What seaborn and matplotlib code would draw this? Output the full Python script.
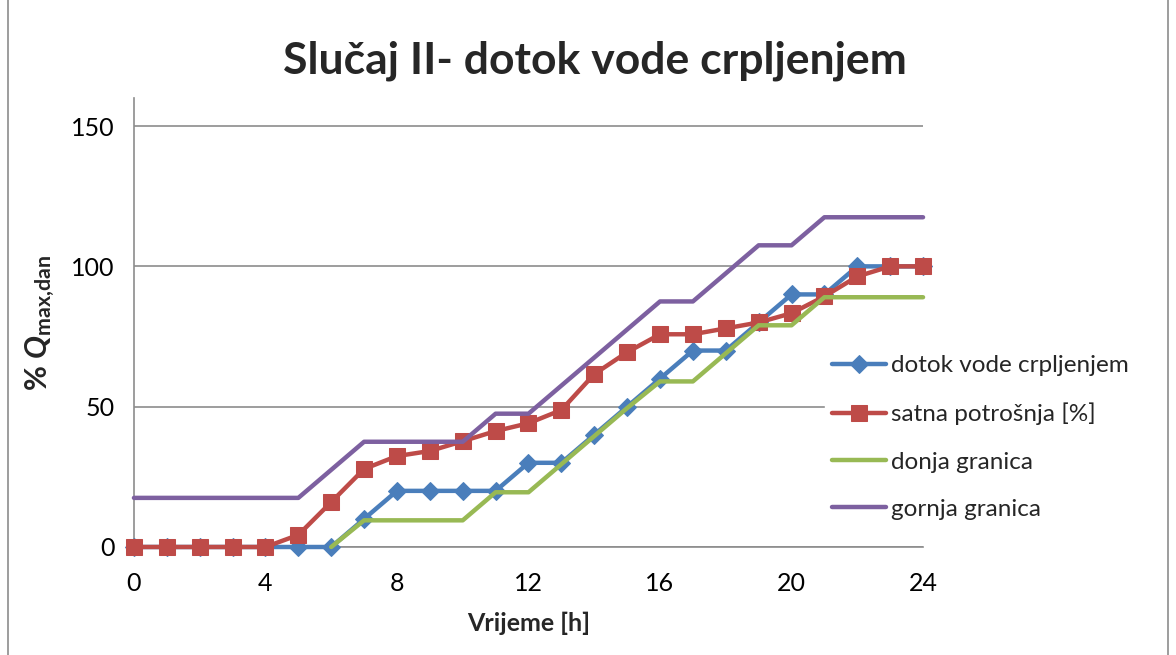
import matplotlib.pyplot as plt
import matplotlib.patches as mpatches
from matplotlib.ticker import MultipleLocator
import seaborn as sns

# podaci ocitani s grafa
sati = list(range(0, 25))
dotok = [0, 0, 0, 0, 0, 0, 0, 10, 20, 20, 20, 20, 30, 30, 40, 50, 60, 70, 70, 80, 90, 90, 100, 100, 100]
potrosnja = [0, 0, 0, 0, 0, 4.3, 16, 27.8, 32.4, 34.2, 37.7, 41.3, 44.1, 48.8, 61.6, 69.4,
             75.8, 75.8, 77.9, 80, 83.3, 89.3, 96.4, 100, 100]
sati_donja = list(range(6, 25))
donja = [0, 9.5, 9.5, 9.5, 9.5, 19.5, 19.5, 29.5, 39.5, 49.5, 59, 59, 69, 79, 79, 89, 89, 89, 89]
gornja = [17.5, 17.5, 17.5, 17.5, 17.5, 17.5, 27.5, 37.5, 37.5, 37.5, 37.5, 47.5, 47.5, 57.5,
          67.5, 77.5, 87.5, 87.5, 97.5, 107.5, 107.5, 117.5, 117.5, 117.5, 117.5]

sns.set_style("white")
plt.rcParams["font.family"] = ["Lato", "DejaVu Sans"]
plt.rcParams["mathtext.fontset"] = "custom"
plt.rcParams["mathtext.rm"] = "Lato"
plt.rcParams["mathtext.bf"] = "Lato:bold"
plt.rcParams["mathtext.it"] = "Lato:italic"
plt.rcParams["mathtext.bfit"] = "Lato:bold:italic"

fig = plt.figure(figsize=(11.76, 6.55), dpi=100)
ax = fig.add_axes([0.1139, 0.1649, 0.6710, 0.6855])

sns.lineplot(x=sati, y=dotok, ax=ax, color="#4A7EBB", lw=3.2, marker="D", markersize=9,
             markeredgecolor="#4A7EBB", label="dotok vode crpljenjem", clip_on=False, zorder=3)
sns.lineplot(x=sati, y=potrosnja, ax=ax, color="#BE4B48", lw=3.2, marker="s", markersize=11,
             markeredgecolor="#BE4B48", label="satna potrošnja [%]", clip_on=False, zorder=4)
sns.lineplot(x=sati_donja, y=donja, ax=ax, color="#98B954", lw=3.2,
             label="donja granica", clip_on=False, zorder=5)
sns.lineplot(x=sati, y=gornja, ax=ax, color="#7D60A0", lw=3.2,
             label="gornja granica", clip_on=False, zorder=6)

ax.set_xlim(0, 24)
ax.set_ylim(0, 160)
ax.xaxis.set_major_locator(MultipleLocator(4))
ax.xaxis.set_minor_locator(MultipleLocator(1))
ax.set_yticks([0, 50, 100, 150])
ax.yaxis.grid(True, color="#8C8C8C", lw=1.2)
ax.set_axisbelow(True)
for s in ["top", "right"]:
    ax.spines[s].set_visible(False)
for s in ["left", "bottom"]:
    ax.spines[s].set_color("#8C8C8C")
    ax.spines[s].set_linewidth(1.2)
ax.tick_params(axis="y", which="major", labelsize=18, length=0, pad=14, colors="#000000")
ax.tick_params(axis="x", which="major", labelsize=18, length=4, pad=14, color="#8C8C8C",
               labelcolor="#000000", direction="out")
ax.tick_params(axis="x", which="minor", length=4, color="#8C8C8C", direction="out")

ax.set_xlabel("Vrijeme [h]", fontsize=18, fontweight="bold", labelpad=12)
ax.set_ylabel(r"% $\mathbfit{Q}_{\mathbf{max{,}dan}}$", fontsize=22, fontweight="bold", labelpad=10)
fig.suptitle("Slučaj II- dotok vode crpljenjem", fontsize=32, fontweight="bold", x=0.506, y=0.938)

leg = ax.legend(loc="upper left", bbox_to_anchor=(0.876, 0.443), frameon=True, fontsize=17.5,
                handlelength=2.2, labelspacing=1.08, handletextpad=0.2, borderaxespad=0,
                borderpad=0.3)
leg.get_frame().set_edgecolor("white")
leg.get_frame().set_facecolor("white")
leg.get_frame().set_alpha(1)

fig.patches.append(mpatches.Rectangle((0.007, -0.01), 0.986, 1.02, transform=fig.transFigure,
                                      fill=False, edgecolor="#8C8C8C", lw=1.2))

fig.savefig("out.png", dpi=100)
